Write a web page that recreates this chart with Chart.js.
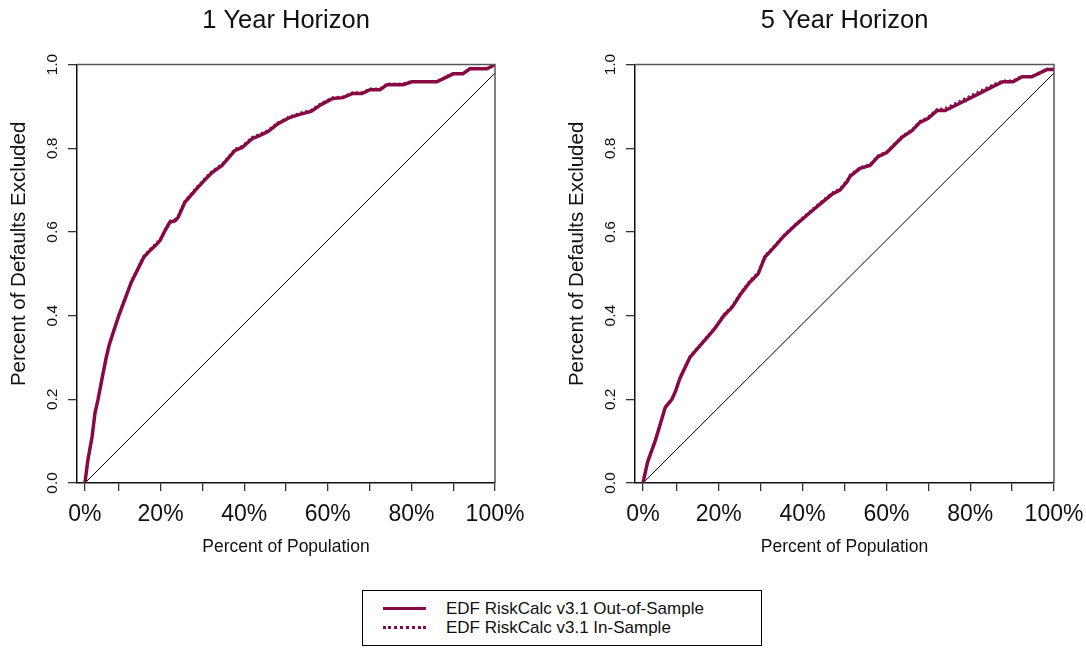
<!DOCTYPE html>
<html>
<head>
<meta charset="utf-8">
<script src="https://cdn.jsdelivr.net/npm/chart.js@4.4.1/dist/chart.umd.min.js"></script>
<style>
  body { margin: 0; background: #fff; width: 1086px; height: 648px; overflow: hidden; position: relative;
         font-family: 'Liberation Sans', Arial, sans-serif; }
  #c1 { position: absolute; left: 0; top: 0; }
  #c2 { position: absolute; left: 558px; top: 0; }
  .legend { position: absolute; left: 362px; top: 590px; width: 400px; height: 56px;
            border: 1px solid #000; box-sizing: border-box; }
  .swatch { position: absolute; left: 20px; width: 43px; }
  .solid { top: 16px; border-top: 3px solid #870a45; }
  .dotted { top: 35px; border-top: 3px dotted #870a45; }
  .txt { position: absolute; left: 83px; font-size: 17px; line-height: 19px; color: #111; white-space: nowrap; }
</style>
</head>
<body>
<canvas id="c1" width="543" height="570"></canvas>
<canvas id="c2" width="528" height="570"></canvas>
<div class="legend">
  <div class="swatch solid"></div>
  <div class="txt" style="top:8px">EDF RiskCalc v3.1 Out-of-Sample</div>
  <div class="swatch dotted"></div>
  <div class="txt" style="top:27px">EDF RiskCalc v3.1 In-Sample</div>
</div>
<script>
// axis ticks
const xTickValues = [0.019, 0.1, 0.2, 0.3, 0.4, 0.5, 0.6, 0.7, 0.8, 0.9, 1.0];
const xTickLabels = ['0%', '', '20%', '', '40%', '', '60%', '', '80%', '', '100%'];
const yTickValues = [0, 0.2, 0.4, 0.6, 0.8, 1.0];
const yTickLabels = ['0.0', '0.2', '0.4', '0.6', '0.8', '1.0'];

// random model diagonal
const diagX = [0.019, 1.0];
const diagY = [0, 0.98];

// 1 year horizon
const oneYearOutX = [0.019, 0.026, 0.036, 0.043, 0.05, 0.06, 0.07, 0.077, 0.09, 0.10, 0.115, 0.13, 0.145, 0.16, 0.175,
  0.19, 0.199, 0.211, 0.222, 0.235, 0.242, 0.258, 0.287, 0.309, 0.323, 0.347, 0.378, 0.395, 0.419, 0.438, 0.457,
  0.481, 0.51, 0.533, 0.56, 0.585, 0.612, 0.636, 0.66, 0.682, 0.701, 0.725, 0.742, 0.78, 0.801, 0.861, 0.90, 0.923,
  0.94, 0.981, 1.0];
const oneYearOutY = [0, 0.055, 0.11, 0.167, 0.198, 0.25, 0.30, 0.33, 0.37, 0.40, 0.44, 0.48, 0.51, 0.54, 0.556,
  0.57, 0.58, 0.604, 0.623, 0.627, 0.635, 0.671, 0.704, 0.728, 0.742, 0.759, 0.795, 0.802, 0.823, 0.831, 0.84,
  0.859, 0.874, 0.881, 0.888, 0.905, 0.919, 0.921, 0.931, 0.931, 0.94, 0.94, 0.952, 0.952, 0.959, 0.959, 0.978, 0.978,
  0.99, 0.99, 1.0];
const oneYearInX = [0.019, 0.026, 0.036, 0.043, 0.05, 0.06, 0.07, 0.077, 0.09, 0.10, 0.115, 0.13, 0.145, 0.16, 0.175,
  0.19, 0.199, 0.211, 0.222, 0.235, 0.242, 0.258, 0.287, 0.309, 0.323, 0.347, 0.378, 0.395, 0.419, 0.438, 0.457,
  0.481, 0.51, 0.533, 0.56, 0.585, 0.612, 0.636, 0.66, 0.682, 0.701, 0.725, 0.742, 0.78, 0.801, 0.861, 0.90, 0.923,
  0.94, 0.981, 1.0];
const oneYearInY = [0, 0.058, 0.113, 0.17, 0.2, 0.253, 0.303, 0.333, 0.374, 0.404, 0.444, 0.484, 0.514, 0.544, 0.56,
  0.574, 0.584, 0.608, 0.627, 0.631, 0.639, 0.675, 0.708, 0.732, 0.746, 0.763, 0.799, 0.806, 0.827, 0.835, 0.844,
  0.862, 0.877, 0.885, 0.892, 0.909, 0.922, 0.924, 0.934, 0.934, 0.943, 0.943, 0.955, 0.955, 0.961, 0.961, 0.98, 0.98,
  0.991, 0.991, 1.0];

// 5 year horizon
const fiveYearOutX = [0.019, 0.03, 0.048, 0.06, 0.072, 0.088, 0.097, 0.107, 0.131, 0.148, 0.174, 0.191, 0.212, 0.232,
  0.251, 0.274, 0.294, 0.31, 0.329, 0.355, 0.387, 0.422, 0.446, 0.47, 0.489, 0.506, 0.513, 0.537, 0.561, 0.58, 0.601,
  0.637, 0.661, 0.68, 0.699, 0.721, 0.74, 0.78, 0.82, 0.855, 0.878, 0.902, 0.924, 0.947, 0.983, 1.0];
const fiveYearOutY = [0, 0.05, 0.10, 0.14, 0.18, 0.20, 0.22, 0.25, 0.30, 0.32, 0.35, 0.37, 0.40, 0.42,
  0.45, 0.48, 0.50, 0.54, 0.56, 0.59, 0.62, 0.65, 0.67, 0.69, 0.70, 0.72, 0.733, 0.752, 0.759, 0.78, 0.79,
  0.826, 0.842, 0.862, 0.871, 0.89, 0.89, 0.91, 0.93, 0.948, 0.959, 0.959, 0.971, 0.971, 0.988, 0.988];
const fiveYearInX = [0.019, 0.03, 0.048, 0.06, 0.072, 0.088, 0.097, 0.107, 0.131, 0.148, 0.174, 0.191, 0.212, 0.232,
  0.251, 0.274, 0.294, 0.31, 0.329, 0.355, 0.387, 0.422, 0.446, 0.47, 0.489, 0.506, 0.513, 0.537, 0.561, 0.58, 0.601,
  0.637, 0.661, 0.68, 0.699, 0.721, 0.74, 0.78, 0.82, 0.855, 0.878, 0.902, 0.924, 0.947, 0.983, 1.0];
const fiveYearInY = [0, 0.053, 0.103, 0.143, 0.183, 0.203, 0.223, 0.253, 0.303, 0.323, 0.353, 0.373, 0.404, 0.424,
  0.454, 0.484, 0.504, 0.544, 0.563, 0.593, 0.623, 0.654, 0.674, 0.694, 0.704, 0.724, 0.737, 0.755, 0.762, 0.783, 0.793,
  0.829, 0.845, 0.865, 0.875, 0.894, 0.896, 0.916, 0.936, 0.953, 0.962, 0.962, 0.973, 0.973, 0.99, 0.99];

const MAROON = '#870a45';
const FONT = "'Liberation Sans', Arial, sans-serif";

function pts(xs, ys) { return xs.map((x, i) => ({ x: x, y: ys[i] })); }

// top and right sides of the plot box
const boxPlugin = {
  id: 'box',
  afterDraw(chart) {
    const { ctx, chartArea: a } = chart;
    ctx.save();
    ctx.strokeStyle = '#555';
    ctx.lineWidth = 1.5;
    ctx.beginPath();
    ctx.moveTo(a.left, a.top);
    ctx.lineTo(a.right, a.top);
    ctx.lineTo(a.right, a.bottom);
    ctx.stroke();
    ctx.restore();
  }
};

function makeChart(id, title, outX, outY, inX, inY, padRight) {
  return new Chart(document.getElementById(id), {
    type: 'line',
    data: {
      datasets: [
        { data: pts(diagX, diagY), borderColor: '#000', borderWidth: 1, pointRadius: 0 },
        { data: pts(inX, inY), borderColor: MAROON, borderWidth: 2, borderDash: [2, 3], pointRadius: 0 },
        { data: pts(outX, outY), borderColor: MAROON, borderWidth: 3.5, pointRadius: 0 }
      ]
    },
    options: {
      responsive: false,
      animation: false,
      layout: { padding: { left: 0, right: padRight, top: 0, bottom: 0 } },
      plugins: {
        legend: { display: false },
        tooltip: { enabled: false },
        title: {
          display: true, text: title, fullSize: false, color: '#111',
          font: { family: FONT, size: 25.5, weight: 'normal' },
          padding: { top: 6, bottom: 28 }
        }
      },
      scales: {
        x: {
          type: 'linear', min: 0, max: 1,
          afterBuildTicks: s => { s.ticks = xTickValues.map(v => ({ value: v })); },
          afterFit: s => { s.height = 87; s.paddingLeft = 0; s.paddingRight = 0; },
          ticks: {
            color: '#111', padding: 10, maxRotation: 0, autoSkip: false,
            font: { family: FONT, size: 23 },
            callback: (v, i) => xTickLabels[i]
          },
          grid: { drawOnChartArea: false, drawTicks: true, tickLength: 8, color: '#333', lineWidth: 1.3 },
          border: { display: true, color: '#111', width: 1.5 },
          title: { display: true, text: 'Percent of Population', color: '#111',
                   font: { family: FONT, size: 17.5 }, padding: { top: 0, bottom: 12 } }
        },
        y: {
          type: 'linear', min: 0, max: 1,
          afterBuildTicks: s => { s.ticks = yTickValues.map(v => ({ value: v })); },
          afterFit: s => { s.width = 77; s.paddingTop = 0; s.paddingBottom = 0; },
          ticks: {
            color: '#111', padding: 5, minRotation: 90, maxRotation: 90, crossAlign: 'center', autoSkip: false,
            font: { family: FONT, size: 15.5 },
            callback: (v, i) => yTickLabels[i]
          },
          grid: { drawOnChartArea: false, drawTicks: true, tickLength: 9, color: '#333', lineWidth: 1.3 },
          border: { display: true, color: '#111', width: 1.5 },
          title: { display: true, text: '\u00a0\u00a0\u00a0\u00a0\u00a0\u00a0\u00a0Percent of Defaults Excluded', color: '#111',
                   font: { family: FONT, size: 20.5 }, padding: { top: 7, bottom: 0 } }
        }
      }
    },
    plugins: [boxPlugin]
  });
}

makeChart('c1', '1 Year Horizon', oneYearOutX, oneYearOutY, oneYearInX, oneYearInY, 48);
makeChart('c2', '5 Year Horizon', fiveYearOutX, fiveYearOutY, fiveYearInX, fiveYearInY, 32);
</script>
</body>
</html>
